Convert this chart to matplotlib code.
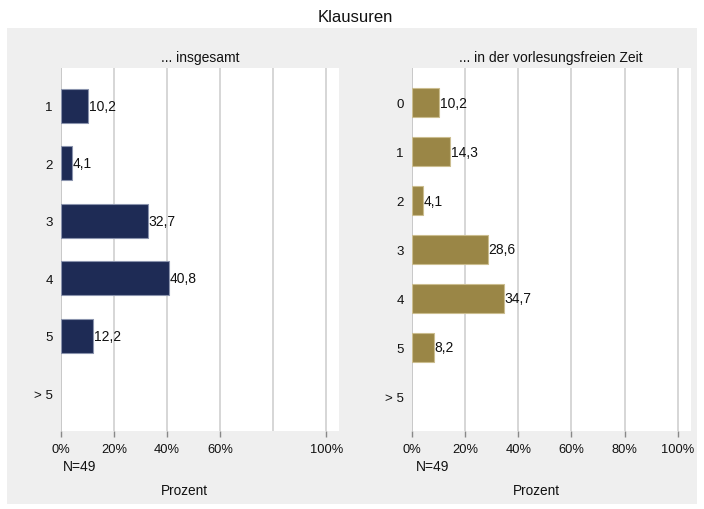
import matplotlib.pyplot as plt
from matplotlib.patches import Rectangle

plt.rcParams['font.family'] = ['Liberation Sans', 'DejaVu Sans']

# data
cats_left = ['1', '2', '3', '4', '5', '> 5']
vals_left = [10.2, 4.1, 32.7, 40.8, 12.2, None]
cats_right = ['0', '1', '2', '3', '4', '5', '> 5']
vals_right = [10.2, 14.3, 4.1, 28.6, 34.7, 8.2, None]
title_left = '... insgesamt'
title_right = '... in der vorlesungsfreien Zeit'
n_note = 'N=49'

W, H = 704, 510
BG = '#efefef'
GRID = '#d6d6d6'


def fx(px):
  return px / W


def fy(py):
  return 1 - py / H


fig = plt.figure(figsize=(W / 100, H / 100), dpi=100)
fig.patch.set_facecolor('white')
fig.patches.append(Rectangle((fx(7), fy(505)), fx(697) - fx(7), fy(29) - fy(505),
                             transform=fig.transFigure, facecolor=BG,
                             edgecolor='none', zorder=-10))

fig.text(fx(355), fy(17.5), 'Klausuren', ha='center', va='center', fontsize=12,
         color='#111111')


def draw_panel(x0, x1, cats, vals, color, edge, title, xticks, pad_top):
  ax = fig.add_axes([fx(x0), fy(432), fx(x1) - fx(x0), fy(69) - fy(432)])
  ax.set_zorder(1)
  ax.set_facecolor('white')
  n = len(cats)
  pos = list(range(n))
  for p, v in zip(pos, vals):
    if v is None:
      continue
    ax.barh(p, v, height=0.59, color=color, edgecolor=edge, linewidth=0.8, zorder=3)
    ax.text(v + 0.25, p, f'{v:.1f}'.replace('.', ','), ha='left', va='center',
            fontsize=10, zorder=4, color='#111111')
  ax.set_xlim(0, 104.8)
  ax.set_ylim(n - 1 + pad_top, -pad_top)
  for g in [20, 40, 60, 80, 100]:
    ax.axvline(g, color=GRID, linewidth=1.4, zorder=1)
  ax.axvline(0, color='#c8c8c8', linewidth=1.4, zorder=2)
  ax.set_yticks(pos)
  ax.set_yticklabels(cats, fontsize=9.6, color='#111111')
  ax.set_xticks(xticks)
  ax.set_xticklabels([f'{t}%' for t in xticks], fontsize=9.3, color='#111111')
  ax.tick_params(axis='y', length=0, pad=6)
  ax.tick_params(axis='x', length=4, width=1, color='#888888', pad=5)
  for s in ax.spines.values():
    s.set_visible(False)
  fig.text(fx((x0 + x1) / 2), fy(58), title, ha='center', va='center',
           fontsize=10, color='#111111')
  return ax


draw_panel(61, 339, cats_left, vals_left, '#1e2b55', '#8a93ad', title_left,
           [0, 20, 40, 60, 100], 0.655)
draw_panel(412, 690.5, cats_right, vals_right, '#9a8646', '#cbbd8f', title_right,
           [0, 20, 40, 60, 80, 100], 0.71)

fig.text(fx(63), fy(467), n_note, ha='left', va='center', fontsize=10, color='#111111')
fig.text(fx(416), fy(467), n_note, ha='left', va='center', fontsize=10, color='#111111')
fig.text(fx(184), fy(491), 'Prozent', ha='center', va='center', fontsize=9.8, color='#111111')
fig.text(fx(536), fy(491), 'Prozent', ha='center', va='center', fontsize=9.8, color='#111111')

fig.savefig('out.png', dpi=100, facecolor=fig.get_facecolor())
